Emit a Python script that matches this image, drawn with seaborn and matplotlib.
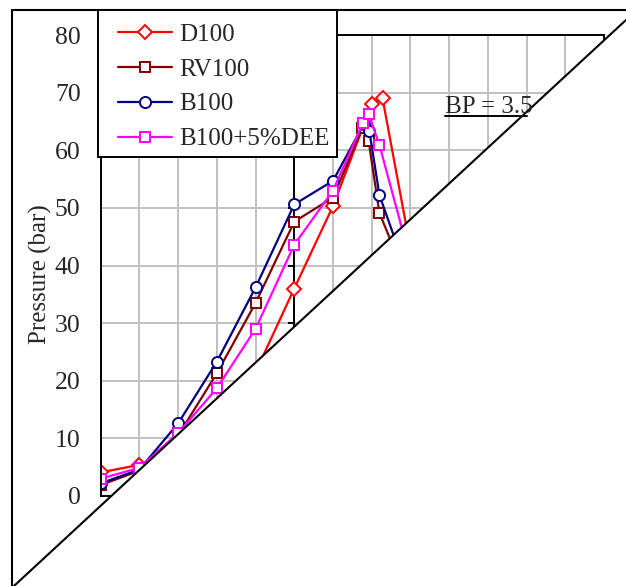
import numpy as np
import pandas as pd
import matplotlib
matplotlib.use("Agg")
import matplotlib.pyplot as plt
from matplotlib.lines import Line2D
from matplotlib.patches import Polygon, Rectangle
import seaborn as sns

# ---------------- data (crank angle in deg, pressure in bar) ----------------
labels = ["D100", "RV100", "B100", "B100+5%DEE"]
ca_d100 = [-25, -20, -15, -10, -5, 0, 5, 10, 11.4, 15]
p_d100 = [4.1, 5.4, 8.5, 13.5, 21.5, 36.0, 50.3, 68.0, 69.0, 43.0]
ca_rv100 = [-25, -20, -15, -10, -5, 0, 5, 8.8, 9.6, 11, 15]
p_rv100 = [1.9, 4.4, 10.5, 21.3, 33.5, 47.6, 51.8, 63.9, 61.6, 49.1, 36.0]
ca_b100 = [-25, -20, -15, -10, -5, 0, 5, 9.0, 9.7, 11, 15]
p_b100 = [2.2, 4.6, 12.6, 23.3, 36.2, 50.6, 54.7, 64.6, 63.3, 52.2, 37.0]
ca_dee = [-25, -20, -15, -10, -5, 0, 5, 8.9, 9.6, 11, 15]
p_dee = [3.0, 4.9, 10.9, 18.7, 29.0, 43.6, 53.0, 64.8, 66.3, 60.9, 41.0]
y_ticks = [0, 10, 20, 30, 40, 50, 60, 70, 80]
x_grid = [-25, -20, -15, -10, -5, 0, 5, 10, 15, 20, 25, 30, 35, 40]
annotation = "BP = 3.5"
ylabel = "Pressure (bar)"

series = [
    (ca_d100, p_d100, "#FF0000", "D", 7.0),
    (ca_rv100, p_rv100, "#800000", "s", 7.4),
    (ca_b100, p_b100, "#000080", "o", 8.0),
    (ca_dee, p_dee, "#FF00FF", "s", 7.4),
]

sns.set_style("white")
plt.rcParams["font.family"] = ["Liberation Serif", "DejaVu Serif"]
plt.rcParams["font.size"] = 18

W, H = 626, 586
def fx(px):
    return px / W
def fy(py):
    return 1 - py / H

fig = plt.figure(figsize=(W / 100, H / 100), dpi=100)
fig.patch.set_facecolor("white")
ax = fig.add_axes([fx(100.7), fy(496), (604 - 100.7) / W, (496 - 35) / H])

handles = []
for (x, y, c, m, ms), lab in zip(series, labels):
    sns.lineplot(x=x, y=y, ax=ax, color=c, marker=m, markersize=ms,
                 markerfacecolor="white", markeredgecolor=c, markeredgewidth=1.4,
                 linewidth=1.6, sort=False, estimator=None, legend=False, zorder=2)
    handles.append(ax.lines[-1])

ax.set_xlim(-25, 40)
ax.set_ylim(0, 80)
ax.set_xticks(x_grid)
ax.set_yticks(y_ticks)
ax.set_xticklabels([])
ax.tick_params(axis="x", length=0)
ax.tick_params(axis="y", length=0, pad=14.5, labelsize=18.5)
ax.set_axisbelow(True)
ax.grid(True, color="#c0c0c0", linewidth=1.4)
for s in ax.spines.values():
    s.set_color("black")
    s.set_linewidth(1.4)
ax.set_xlabel("")
ax.set_ylabel(ylabel, fontsize=18)
ax.yaxis.set_label_coords(-0.096, 0.482)

# value axis crossing at 0 deg with its tick marks
ax.axvline(0, color="black", linewidth=1.4, zorder=1.5)
ax.hlines(y_ticks, -0.8, 0, color="black", linewidth=1.4, zorder=1.5)

# white triangle overlay with diagonal edge
x0, y0, x1, y1 = 12, 587.8, 626, 20
tri = Polygon([(fx(x0), fy(y0)), (fx(x1), fy(y1)), (fx(640), fy(y1)), (fx(640), fy(600)), (fx(x0), fy(600))],
              closed=True, transform=fig.transFigure, facecolor="white", edgecolor="none", zorder=3)
fig.patches.append(tri)
fig.lines.append(Line2D([fx(x0), fx(x1)], [fy(y0), fy(y1)], transform=fig.transFigure,
                        color="black", linewidth=1.5, zorder=3.1))

# outer frame
fig.lines.append(Line2D([fx(12), fx(12)], [fy(10), fy(590)], transform=fig.transFigure,
                        color="black", linewidth=1.5, zorder=3.2))
fig.lines.append(Line2D([fx(12), fx(630)], [fy(10), fy(10)], transform=fig.transFigure,
                        color="black", linewidth=1.5, zorder=3.2))

# legend box
fig.patches.append(Rectangle((fx(97.5), fy(157)), (337 - 97.5) / W, (157 - 10) / H,
                             transform=fig.transFigure, facecolor="white", edgecolor="black",
                             linewidth=1.4, zorder=4))
fig.legend(handles, labels, loc="upper left", bbox_to_anchor=(fx(118), fy(23.5)),
           frameon=False, borderpad=0, borderaxespad=0, handlelength=2.16,
           handletextpad=0.28, labelspacing=0.49, fontsize=18)

# annotation (underlined)
fig.text(fx(445), fy(113), annotation, ha="left", va="baseline", fontsize=18, zorder=6)
fig.lines.append(Line2D([fx(445), fx(527)], [fy(115.7), fy(115.7)], transform=fig.transFigure,
                        color="black", linewidth=1.4, zorder=6))

fig.savefig("out.png", dpi=100, facecolor="white")
